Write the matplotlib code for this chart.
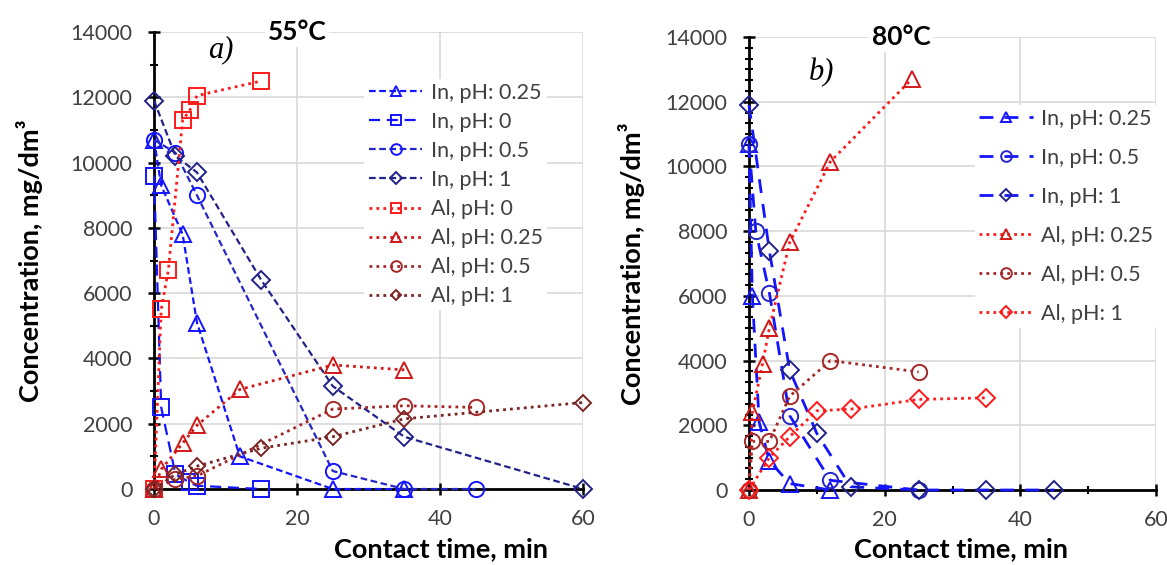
import matplotlib
matplotlib.use('Agg')
import matplotlib.pyplot as plt
from matplotlib.ticker import MultipleLocator

plt.rcParams['font.family'] = ['Lato', 'DejaVu Sans']

# ---- panel a) 55 °C ----
a_in025_t = [0, 1, 4, 6, 12, 25, 35]
a_in025_c = [10700, 9300, 7800, 5100, 1000, 0, 0]
a_in0_t = [0, 1, 3, 5, 6, 15]
a_in0_c = [9600, 2500, 450, 200, 100, 0]
a_in05_t = [0, 3, 6, 25, 35, 45]
a_in05_c = [10700, 10300, 9000, 550, 0, 0]
a_in1_t = [0, 3, 6, 15, 25, 35, 60]
a_in1_c = [11900, 10200, 9700, 6400, 3150, 1600, 0]
a_al0_t = [0, 1, 2, 4, 5, 6, 15]
a_al0_c = [0, 5500, 6700, 11300, 11600, 12050, 12500]
a_al025_t = [0, 1, 4, 6, 12, 25, 35]
a_al025_c = [0, 600, 1400, 1950, 3050, 3800, 3650]
a_al05_t = [0, 3, 6, 25, 35, 45]
a_al05_c = [0, 300, 400, 2450, 2550, 2500]
a_al1_t = [0, 3, 6, 15, 25, 35, 60]
a_al1_c = [0, 450, 700, 1250, 1600, 2150, 2650]

# ---- panel b) 80 °C ----
b_in025_t = [0, 0.5, 1.5, 3, 6, 12]
b_in025_c = [10700, 6000, 2100, 900, 200, 0]
b_in05_t = [0, 1, 3, 6, 12, 25]
b_in05_c = [10700, 8000, 6100, 2300, 300, 0]
b_in1_t = [0, 3, 6, 10, 15, 25, 35, 45]
b_in1_c = [11900, 7400, 3700, 1750, 100, 0, 0, 0]
b_al025_t = [0, 0.5, 2, 3, 6, 12, 24]
b_al025_c = [0, 2400, 3900, 5000, 7650, 10150, 12700]
b_al05_t = [0, 0.5, 3, 6, 12, 25]
b_al05_c = [0, 1500, 1500, 2900, 4000, 3650]
b_al1_t = [0, 3, 6, 10, 15, 25, 35]
b_al1_c = [0, 1000, 1650, 2450, 2500, 2800, 2850]

BLUE = '#1414FF'
MBLUE = '#2525C8'
NAVY = '#22228A'
RED = '#FF1a1a'
RED2 = '#D01818'
BROWN = '#A52828'
DBROWN = '#7A2424'

fine_dash = (0, (3, 1.6))
long_dash = (0, (5, 3))
wide_dash = (0, (5, 4))
dot = (0, (1, 1.5))

fig = plt.figure(figsize=(11.67, 5.65), dpi=100)
ax_a = fig.add_axes([0.132, 0.1345, 0.3676, 0.8088])
ax_b = fig.add_axes([0.6418, 0.1327, 0.3488, 0.8018])


def series(ax, t, c, label, lc, mc, marker, ls, lw=1.6, ms=11):
    ax.plot(t, c, color=lc, ls=ls, lw=lw, marker=marker, ms=ms, mfc='none',
            mec=mc, mew=1.4, label=label, clip_on=False, zorder=3)


series(ax_a, a_in025_t, a_in025_c, 'In, pH: 0.25', BLUE, BLUE, '^', fine_dash)
series(ax_a, a_in0_t, a_in0_c, 'In, pH: 0', BLUE, BLUE, 's', long_dash)
series(ax_a, a_in05_t, a_in05_c, 'In, pH: 0.5', MBLUE, BLUE, 'o', fine_dash)
series(ax_a, a_in1_t, a_in1_c, 'In, pH: 1', NAVY, NAVY, 'D', fine_dash, ms=9)
series(ax_a, a_al0_t, a_al0_c, 'Al, pH: 0', RED, RED, 's', dot, lw=2)
series(ax_a, a_al025_t, a_al025_c, 'Al, pH: 0.25', RED2, RED2, '^', dot, lw=2)
series(ax_a, a_al05_t, a_al05_c, 'Al, pH: 0.5', BROWN, BROWN, 'o', dot, lw=2)
series(ax_a, a_al1_t, a_al1_c, 'Al, pH: 1', DBROWN, DBROWN, 'D', dot, lw=2, ms=8)

series(ax_b, b_in025_t, b_in025_c, 'In, pH: 0.25', BLUE, BLUE, '^', wide_dash, lw=2)
series(ax_b, b_in05_t, b_in05_c, 'In, pH: 0.5', BLUE, MBLUE, 'o', wide_dash, lw=2)
series(ax_b, b_in1_t, b_in1_c, 'In, pH: 1', BLUE, NAVY, 'D', wide_dash, lw=2, ms=9)
series(ax_b, b_al025_t, b_al025_c, 'Al, pH: 0.25', RED, RED2, '^', dot, lw=2)
series(ax_b, b_al05_t, b_al05_c, 'Al, pH: 0.5', BROWN, BROWN, 'o', dot, lw=2)
series(ax_b, b_al1_t, b_al1_c, 'Al, pH: 1', RED, RED, 'D', dot, lw=2, ms=9)

for ax in (ax_a, ax_b):
    ax.set_xlim(0, 60)
    ax.set_ylim(0, 14000)
    ax.xaxis.set_major_locator(MultipleLocator(20))
    ax.yaxis.set_major_locator(MultipleLocator(2000))
    ax.grid(True, color='#D9D9D9', lw=1.2, zorder=0)
    ax.set_axisbelow(True)
    for s in ('top', 'right'):
        ax.spines[s].set_visible(False)
    for s in ('left', 'bottom'):
        ax.spines[s].set_linewidth(2)
    ax.tick_params(which='major', direction='inout', length=9, width=1.8,
                   labelsize=15.5, labelcolor='#404040')
    ax.tick_params(axis='x', which='major', pad=10)
    ax.tick_params(axis='y', which='major', pad=11)
    ax.tick_params(which='minor', direction='inout', length=6, width=1.5)
    ax.set_ylabel('Concentration, mg/dm³', fontsize=19.5, fontweight='bold')
    ax.set_xlabel('Contact time, min', fontsize=19.5, fontweight='bold')

ax_a.yaxis.set_minor_locator(MultipleLocator(1000))
ax_b.yaxis.set_minor_locator(MultipleLocator(2000 / 6))
ax_b.xaxis.set_minor_locator(MultipleLocator(10))

ax_a.yaxis.set_label_coords(-0.259, 0.5)
ax_b.yaxis.set_label_coords(-0.256, 0.5)
ax_a.xaxis.set_label_coords(0.67, -0.105)
ax_b.xaxis.set_label_coords(0.52, -0.105)

# temperature titles sitting on the top gridline
ax_a.text(20, 14000, '55°C', ha='center', va='center', fontsize=19, fontweight='bold',
          bbox=dict(fc='white', ec='none', pad=2), zorder=4)
ax_b.text(22.4, 14000, '80°C', ha='center', va='center', fontsize=19, fontweight='bold',
          bbox=dict(fc='white', ec='none', pad=2), zorder=4)
ax_a.text(9.4, 13450, 'a)', ha='center', va='center', fontsize=22, style='italic',
          family='Liberation Serif')
ax_b.text(10.7, 12900, 'b)', ha='center', va='center', fontsize=22, style='italic',
          family='Liberation Serif')

leg_kw = dict(loc='upper left', bbox_transform=fig.transFigure, fontsize=15.5,
              frameon=True, framealpha=1, edgecolor='none', facecolor='white',
              handlelength=2.5, handletextpad=0.4, borderpad=0.2, markerscale=0.7)
leg = ax_a.legend(bbox_to_anchor=(0.303, 0.880), labelspacing=0.42, **leg_kw)
leg.get_frame().set_linewidth(0)
for txt in leg.get_texts():
    txt.set_color('#404040')
leg = ax_b.legend(bbox_to_anchor=(0.826, 0.834), labelspacing=0.88, **leg_kw)
leg.get_frame().set_linewidth(0)
for txt in leg.get_texts():
    txt.set_color('#404040')

fig.savefig('out.png', dpi=100)
